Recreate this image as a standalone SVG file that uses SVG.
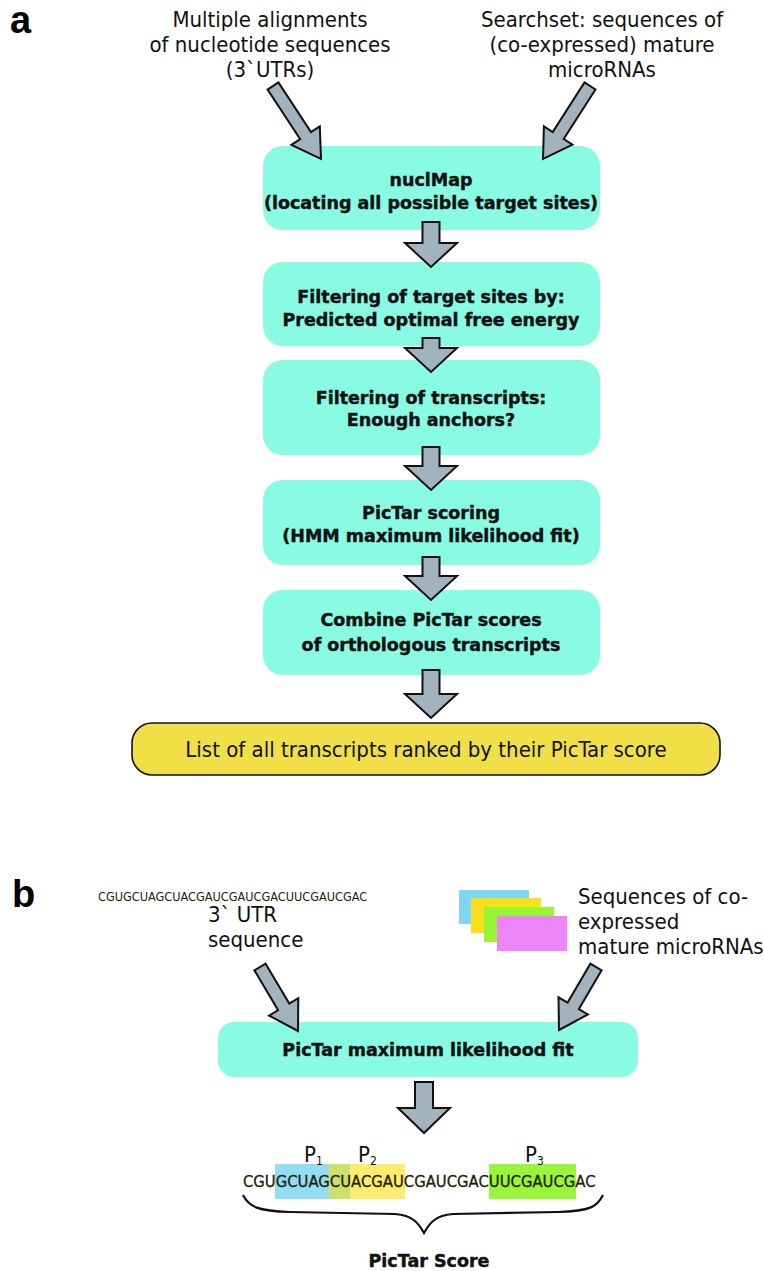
<svg xmlns="http://www.w3.org/2000/svg" width="764" height="1271" viewBox="0 0 764 1271">
<style>
.reg{font-family:"DejaVu Sans Condensed","DejaVu Sans",sans-serif;font-stretch:condensed;font-size:22px;fill:#111}
.bld{font-family:"DejaVu Sans","Liberation Sans",sans-serif;font-weight:bold;font-size:17.5px;fill:#111;stroke:#111;stroke-width:0.45}
.lab{font-family:"Liberation Sans",Arial,sans-serif;font-weight:bold;font-size:38px;fill:#000}
.box{fill:#88fbe2}
.arr{fill:#a3b3be;stroke:#111;stroke-width:2;stroke-linejoin:miter}
.seq{font-family:"DejaVu Sans Condensed","DejaVu Sans",sans-serif;font-stretch:condensed;fill:#1e1e08}
</style>
<rect width="764" height="1271" fill="#fff"/>
<text class="lab" x="10" y="33">a</text>
<text class="lab" x="12" y="907">b</text>

<g id="input-alignments">
<text class="reg" text-anchor="middle" x="270" y="27">Multiple alignments</text>
<text class="reg" text-anchor="middle" x="270" y="52">of nucleotide sequences</text>
<text class="reg" text-anchor="middle" x="270" y="77">(3`UTRs)</text>
</g>
<g id="input-searchset">
<text class="reg" text-anchor="middle" x="602" y="27">Searchset: sequences of</text>
<text class="reg" text-anchor="middle" x="602" y="52">(co-expressed) mature</text>
<text class="reg" text-anchor="middle" x="602" y="77">microRNAs</text>
</g>
<g id="nuclmap">
<rect class="box" x="263" y="146" width="337" height="84" rx="20"/>
<text class="bld" text-anchor="middle" x="431" y="186">nuclMap</text>
<text class="bld" text-anchor="middle" x="431" y="209">(locating all possible target sites)</text>
</g>
<g id="filter-energy">
<rect class="box" x="263" y="262" width="337" height="84" rx="20"/>
<text class="bld" text-anchor="middle" x="431" y="303">Filtering of target sites by:</text>
<text class="bld" text-anchor="middle" x="431" y="326">Predicted optimal free energy</text>
</g>
<g id="filter-anchors">
<rect class="box" x="263" y="360" width="337" height="95" rx="20"/>
<text class="bld" text-anchor="middle" x="431" y="404">Filtering of transcripts:</text>
<text class="bld" text-anchor="middle" x="431" y="426">Enough anchors?</text>
</g>
<g id="pictar-scoring">
<rect class="box" x="263" y="480" width="337" height="85" rx="20"/>
<text class="bld" text-anchor="middle" x="431" y="519">PicTar scoring</text>
<text class="bld" text-anchor="middle" x="431" y="542">(HMM maximum likelihood fit)</text>
</g>
<g id="combine">
<rect class="box" x="263" y="590" width="337" height="85" rx="20"/>
<text class="bld" text-anchor="middle" x="431" y="626">Combine PicTar scores</text>
<text class="bld" text-anchor="middle" x="431" y="651">of orthologous transcripts</text>
</g>
<g id="ranked-list">
<rect x="132" y="723" width="588" height="52" rx="20" fill="#f0df46" stroke="#111" stroke-width="1.6"/>
<text class="reg" text-anchor="middle" x="426" y="757" font-size="22.4">List of all transcripts ranked by their PicTar score</text>
</g>

<g id="utr-input">
<text class="seq" x="98" y="901" font-size="12.6">CGUGCUAGCUACGAUCGAUCGACUUCGAUCGAC</text>
<text class="reg" x="208" y="922">3` UTR</text>
<text class="reg" x="208" y="947">sequence</text>
</g>
<g id="mirna-input">
<rect x="459" y="890" width="70" height="34" fill="#7fd6f2"/>
<rect x="471" y="898" width="70" height="35" fill="#f6e11c"/>
<rect x="484" y="907" width="70" height="35" fill="#98f535"/>
<rect x="497" y="916" width="70" height="35" fill="#ee85f6"/>
<text class="reg" x="578" y="904">Sequences of co-</text>
<text class="reg" x="578" y="929">expressed</text>
<text class="reg" x="578" y="954">mature microRNAs</text>
</g>
<g id="pictar-fit">
<rect class="box" x="218" y="1022" width="420" height="55" rx="16"/>
<text class="bld" text-anchor="middle" x="428" y="1056">PicTar maximum likelihood fit</text>
</g>
<g id="result">
<rect x="275" y="1164" width="54" height="35" fill="#93dcf2"/>
<rect x="329" y="1164" width="21" height="35" fill="#cde06a"/>
<rect x="350" y="1164" width="55" height="35" fill="#fbeb6e"/>
<rect x="489" y="1164" width="87" height="35" fill="#98f53a"/>
<text class="seq" x="243" y="1187" font-size="16.5" stroke="#1e1e08" stroke-width="0.3">CGUGCUAGCUACGAUCGAUCGACUUCGAUCGAC</text>
<text class="reg" x="304" y="1162" font-size="22">P<tspan font-size="12" dy="3">1</tspan></text>
<text class="reg" x="358" y="1162" font-size="22">P<tspan font-size="12" dy="3">2</tspan></text>
<text class="reg" x="525" y="1162" font-size="22">P<tspan font-size="12" dy="3">3</tspan></text>
<path d="M243,1195 C249,1207 258,1211 290,1212 L395,1214 C413,1215 419,1224 424,1233 C429,1224 435,1215 453,1214 L558,1212 C590,1211 597,1207 603,1195" fill="none" stroke="#111" stroke-width="2.2"/>
<text class="bld" text-anchor="middle" x="429" y="1267">PicTar Score</text>
</g>

<g id="connectors">
<polygon class="arr" points="278.4,82.4 311,132 319.8,126.3 321,159 291.4,144.9 300.2,139.2 267.6,89.6"/>
<polygon class="arr" points="595.5,89.5 563.7,139 572.5,144.7 543,159 543.9,126.3 552.7,132 584.5,82.5"/>
<polygon class="arr" points="422.5,222 439.5,222 439.5,243 457,243 431,267 405,243 422.5,243"/>
<polygon class="arr" points="422.5,338 439.5,338 439.5,348 457,348 431,372 405,348 422.5,348"/>
<polygon class="arr" points="422.5,447 439.5,447 439.5,466 457,466 431,490 405,466 422.5,466"/>
<polygon class="arr" points="422.5,557 439.5,557 439.5,576 457,576 431,600 405,576 422.5,576"/>
<polygon class="arr" points="422.5,670 439.5,670 439.5,694 457,694 431,718 405,694 422.5,694"/>
<polygon class="arr" points="265.6,963.7 289.3,1003.6 298.3,998.2 298,1031 269.1,1015.6 278.1,1010.2 254.4,970.3"/>
<polygon class="arr" points="601.6,970.3 578.8,1009.2 587.9,1014.5 559,1030 558.5,997.3 567.6,1002.6 590.4,963.7"/>
<polygon class="arr" points="415,1082 433,1082 433,1108 450,1108 424,1133 398,1108 415,1108"/>
</g>
</svg>
